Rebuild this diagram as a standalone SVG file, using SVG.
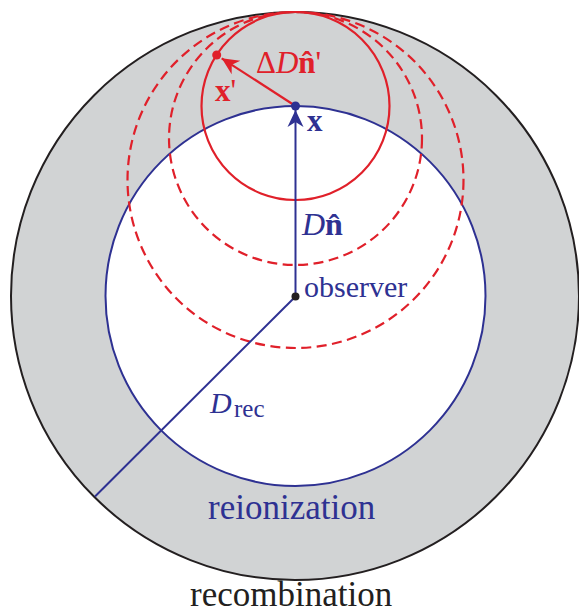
<svg xmlns="http://www.w3.org/2000/svg" width="579" height="614" viewBox="0 0 579 614">
<style>
.red{stroke:#e0202a;fill:none;stroke-width:2.2}
.dash{stroke-dasharray:10 5.5}
.blue{stroke:#2e3192;fill:none;stroke-width:2}
text{font-family:"Liberation Serif","Times New Roman",serif}
.tb{fill:#2e3192}
.tr{fill:#e0202a}
.it{font-style:italic}
.bd{font-weight:bold}
</style>
<defs>
<marker id="ahB" markerUnits="userSpaceOnUse" viewBox="-18 -9 19 18" refX="0" refY="0" markerWidth="19" markerHeight="18" orient="auto">
<path d="M0,0 L-17,-8 L-12,0 L-17,8 z" fill="#2e3192"/>
</marker>
<marker id="ahR" markerUnits="userSpaceOnUse" viewBox="-18 -9 19 18" refX="0" refY="0" markerWidth="19" markerHeight="18" orient="auto">
<path d="M0,0 L-17,-8 L-12,0 L-17,8 z" fill="#e0202a"/>
</marker>
</defs>
<g id="recombination">
<circle cx="295" cy="296" r="284" fill="#d1d3d4" stroke="#231f20" stroke-width="2"/>
<text x="190" y="606" font-size="35" fill="#231f20">recombination</text>
</g>
<g id="reionization">
<circle cx="295.5" cy="296" r="190" fill="#ffffff" stroke="#2e3192" stroke-width="2"/>
<text class="tb" x="208" y="519" font-size="35">reionization</text>
</g>
<g id="shells">
<circle class="red dash" cx="295.5" cy="180" r="168"/>
<circle class="red dash" cx="295.5" cy="138.5" r="126.5"/>
<circle class="red" cx="295.5" cy="106" r="94"/>
</g>
<g id="connectors">
<line class="blue" x1="295.5" y1="296.5" x2="95" y2="496.5"/>
<line class="blue" x1="295.5" y1="296.5" x2="295.5" y2="110" marker-end="url(#ahB)"/>
<line class="red" x1="295.5" y1="106" x2="221.7" y2="58.3" marker-end="url(#ahR)"/>
</g>
<g id="observer">
<circle cx="295.5" cy="296.5" r="4" fill="#231f20"/>
<text class="tb" x="304" y="297" font-size="30">observer</text>
</g>
<g id="x">
<circle cx="295.5" cy="106" r="4.5" fill="#2e3192"/>
<text class="tb bd" x="307" y="131" font-size="31">x</text>
</g>
<g id="xprime">
<circle cx="216.7" cy="55" r="4.5" fill="#e0202a"/>
<text class="tr" x="215" y="100.5" font-size="31"><tspan class="bd">x</tspan>'</text>
</g>
<g id="labels">
<text class="tr" x="256" y="72.5" font-size="31">Δ<tspan class="it">D</tspan><tspan class="bd">n̂</tspan>'</text>
<text class="tb" x="302" y="235" font-size="32"><tspan class="it">D</tspan><tspan class="bd">n̂</tspan></text>
<text class="tb" x="210" y="413" font-size="30"><tspan class="it">D</tspan><tspan x="234" y="417" font-size="25">rec</tspan></text>
</g>
</svg>
